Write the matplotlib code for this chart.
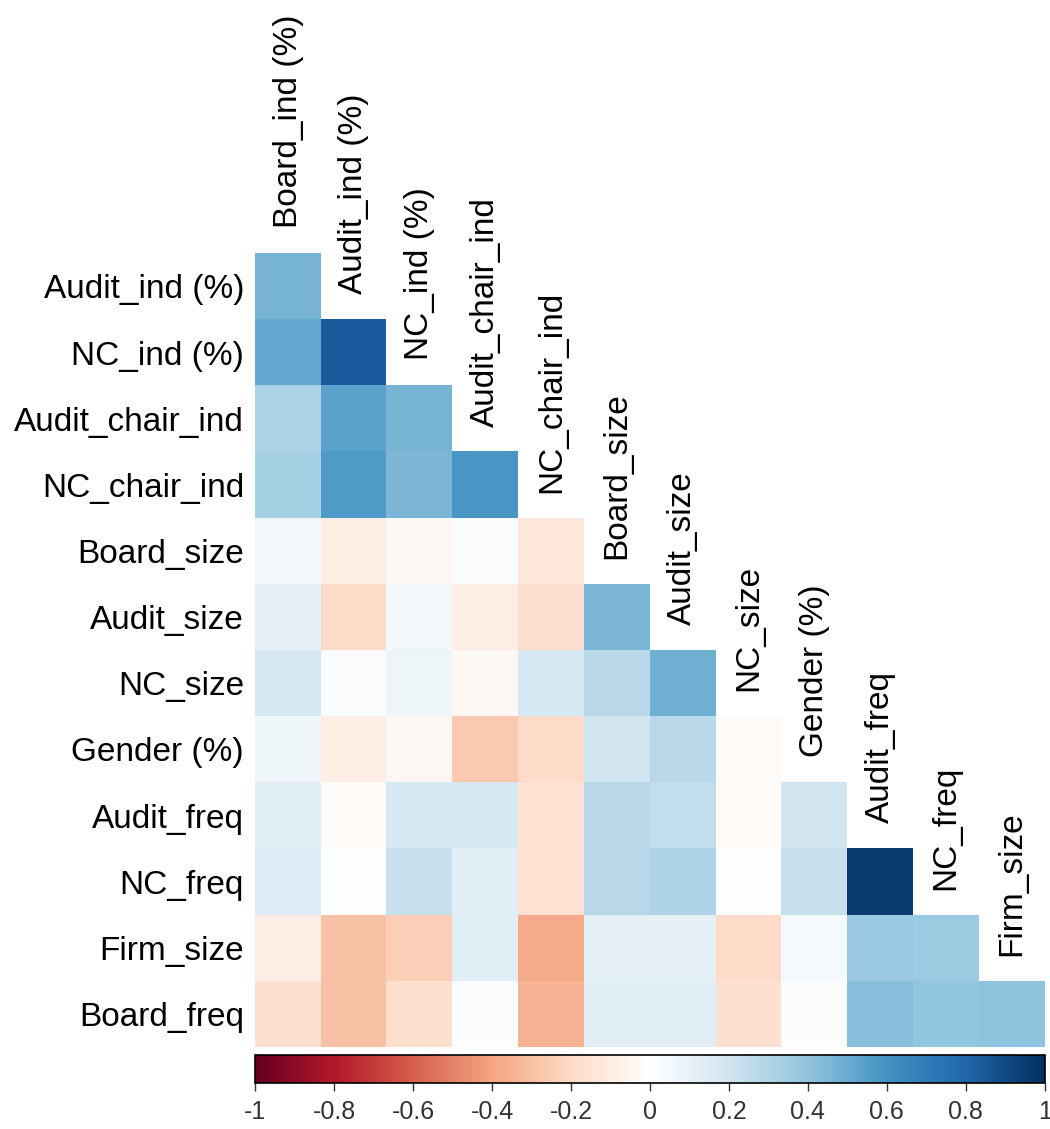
import numpy as np
import matplotlib
matplotlib.use("Agg")
import matplotlib.pyplot as plt
from matplotlib.colors import LinearSegmentedColormap

plt.rcParams['font.family'] = ['Liberation Sans', 'DejaVu Sans']

row_labels = ["Audit_ind (%)", "NC_ind (%)", "Audit_chair_ind", "NC_chair_ind",
              "Board_size", "Audit_size", "NC_size", "Gender (%)", "Audit_freq",
              "NC_freq", "Firm_size", "Board_freq"]
col_labels = ["Board_ind (%)", "Audit_ind (%)", "NC_ind (%)", "Audit_chair_ind",
              "NC_chair_ind", "Board_size", "Audit_size", "NC_size", "Gender (%)",
              "Audit_freq", "NC_freq", "Firm_size"]

# lower-triangle correlations, one list per row
r_audit_ind = [0.46]
r_nc_ind = [0.51, 0.83]
r_audit_chair = [0.30, 0.53, 0.46]
r_nc_chair = [0.33, 0.56, 0.45, 0.58]
r_board_size = [0.05, -0.10, -0.04, 0.01, -0.13]
r_audit_size = [0.10, -0.20, 0.05, -0.10, -0.17, 0.45]
r_nc_size = [0.17, 0.02, 0.07, -0.04, 0.17, 0.27, 0.48]
r_gender = [0.06, -0.10, -0.04, -0.27, -0.20, 0.19, 0.27, -0.03]
r_audit_freq = [0.13, -0.03, 0.17, 0.17, -0.16, 0.27, 0.24, -0.03, 0.19]
r_nc_freq = [0.15, 0.00, 0.22, 0.13, -0.16, 0.27, 0.30, 0.00, 0.22, 0.95]
r_firm_size = [-0.10, -0.30, -0.25, 0.13, -0.38, 0.11, 0.11, -0.20, 0.04, 0.37, 0.36]
r_board_freq = [-0.17, -0.30, -0.18, 0.01, -0.35, 0.12, 0.12, -0.17, 0.01, 0.42, 0.39, 0.40]

rows = [r_audit_ind, r_nc_ind, r_audit_chair, r_nc_chair, r_board_size, r_audit_size,
        r_nc_size, r_gender, r_audit_freq, r_nc_freq, r_firm_size, r_board_freq]

# corrplot style RdBu with a pure white centre
col2 = ["#67001F", "#B2182B", "#D6604D", "#F4A582", "#FDDBC7", "#FFFFFF",
        "#D1E5F0", "#92C5DE", "#4393C3", "#2166AC", "#053061"]
cmap = LinearSegmentedColormap.from_list("corr_rdbu", col2, N=200)

n = len(row_labels)
mat = np.full((n, n), np.nan)
for i, r in enumerate(rows):
    mat[i, :len(r)] = r
data = np.ma.masked_invalid(mat)

fig = plt.figure(figsize=(10.5, 11.29), dpi=100)
ax = fig.add_axes([0.243, 0.0726, 0.752, 0.703])
im = ax.imshow(data, cmap=cmap, vmin=-1, vmax=1, aspect="auto", interpolation="nearest")

ax.set_yticks(range(n))
ax.set_yticklabels(row_labels, fontsize=24)
ax.tick_params(axis="y", length=0, pad=8)
ax.set_xticks([])
for s in ax.spines.values():
    s.set_visible(False)

# column labels sit on the diagonal
for j, lab in enumerate(col_labels):
    ax.text(j, j - 0.5 - 0.38, lab, rotation=90, ha="center", va="bottom", fontsize=24)

cax = fig.add_axes([0.243, 0.0407, 0.752, 0.0248])
cb = fig.colorbar(im, cax=cax, orientation="horizontal")
ticks = np.round(np.arange(-1, 1.01, 0.2), 1)
cb.set_ticks(ticks)
cb.set_ticklabels(["%g" % t if t != 0 else "0" for t in ticks])
cax.tick_params(labelsize=18, length=6, width=1, colors="#333333", pad=6)
cb.outline.set_linewidth(1.2)

fig.savefig("out.png", dpi=100)
